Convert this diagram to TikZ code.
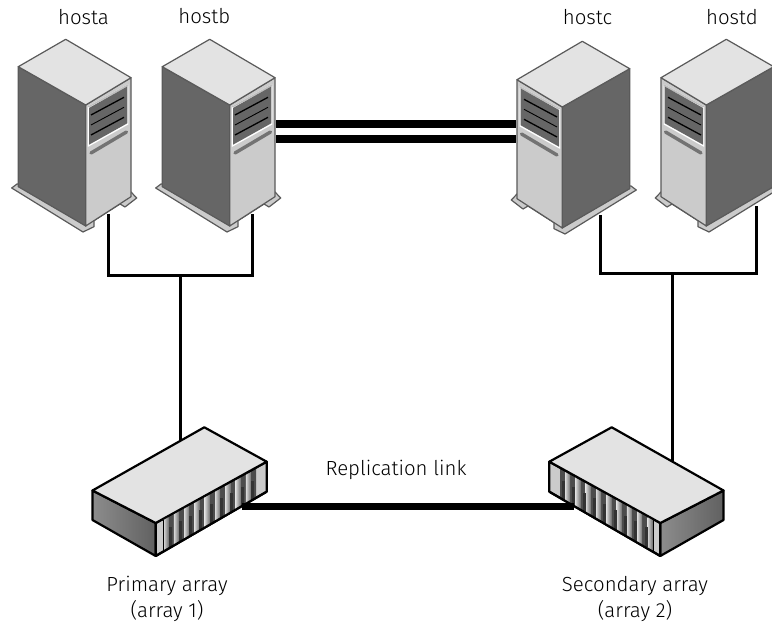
\documentclass[tikz,border=0pt]{standalone}
\usepackage{fontspec}
\setmainfont{Fira Sans Light}
\definecolor{topc}{HTML}{E3E3E3}
\definecolor{frontc}{HTML}{CBCBCB}
\definecolor{sidec}{HTML}{666666}
\definecolor{edgec}{HTML}{5A5A5A}
\tikzset{
  lab/.style={font=\fontsize{20.4}{26}\selectfont,align=center,inner sep=0pt,text=black},
  thin wire/.style={line width=3pt,black},
  thick wire/.style={line width=7.6pt,black},
  face/.style={draw=edgec,line width=1.2pt,line join=round},
  hard/.style={draw=black,line width=2.2pt,line join=round},
  pics/server/.style={code={
    \coordinate (-port) at (108.3,214);
    \filldraw[fill=frontc,face] (11.7,188) -- (17,184) -- (120,190) -- (131,192) -- (136.7,198) -- (125,207) -- (120,204) -- (94,220.6) -- (94,226.7) -- (83,232) -- cycle;
    \filldraw[fill=sidec,face] (18.3,66.7) -- (85.7,105) -- (85.7,226) -- (18.3,186.7) -- cycle;
    \filldraw[fill=frontc,face] (85.7,105) -- (131,77.7) -- (131,196.7) -- (85.7,226) -- cycle;
    \filldraw[fill=topc,face] (65.7,39.3) -- (131,77.7) -- (85.7,105) -- (18.3,66.7) -- cycle;
    \fill[white] (87.8,106.5) -- (128.3,84) -- (128.3,124.5) -- (87.8,147) -- cycle;
    \fill[black!25] (87.8,106.5) -- (128.3,84) -- (128.3,86) -- (89,107.5) -- cycle;
    \fill[sidec] (89,108) -- (127.3,86.5) -- (127.3,123.3) -- (89,144.7) -- cycle;
    \draw[black,line width=1.3pt] (91,115) -- (124,97.3);
    \draw[black,line width=.9pt] (91,125) -- (124,107.3);
    \draw[black,line width=1.3pt] (91,135) -- (124,117.3);
    \draw[black!55,line width=3.4pt,line cap=round] (91,153) -- (126.5,132);
  }},
  pics/storage/.style={code={
    \coordinate (-port) at (180,441);
    \coordinate (-rear) at (144,461);
    \coordinate (-link) at (242,506.5);
    \filldraw[left color=black!45,right color=black!62,hard] (92.5,490.5) -- (155.7,523) -- (155.7,556) -- (92.5,520) -- cycle;
    \filldraw[fill=frontc,hard] (155.7,523) -- (266.7,461.7) -- (266.7,491.7) -- (155.7,556) -- cycle;
    \filldraw[fill=topc,hard] (204.3,427.3) -- (266.7,461.7) -- (155.7,523) -- (92.5,490.5) -- cycle;
    \begin{scope}
      \clip (163,519.5) -- (256,468.5) -- (256,498.5) -- (163,552) -- cycle;
      \fill[black!70] (160,460) rectangle (260,556);
      \foreach \i in {0,...,8}{
        \shade[left color=black!15,right color=black!55]
          ({163.5+\i*10.3},{517-\i*5.75}) rectangle ++(5,38);
        \fill[black!80] ({168.5+\i*10.3},{527-\i*5.75}) rectangle ++(3,20);
      }
    \end{scope}
    \draw[black,line width=1pt] (163,519.5) -- (256,468.5);
    \draw[black,line width=1pt] (163,519.5) -- (163,552);
    \draw[hard] (155.7,556) -- (266.7,491.7);
  }}
}
\begin{document}
\begin{tikzpicture}[x=1pt,y=-1pt]
\useasboundingbox (0,0) rectangle (772,623);
\fill[white] (0,0) rectangle (772,623);
\begin{scope}
\clip (0,0) rectangle (772,623);
\pic (sa) at (0,0) {server};
\pic (sb) at (144,0) {server};
\pic[xscale=-1] (sc) at (648,2) {server};
\pic[xscale=-1] (sd) at (792,0) {server};
\pic (pa) at (0,0) {storage};
\pic[xscale=-1] (sa2) at (816,0) {storage};
\end{scope}
\node[lab] (ta) at (83.5,17) {hosta};
\node[lab] (tb) at (204.3,16) {hostb};
\node[lab] (tc) at (587.5,17) {hostc};
\node[lab] (td) at (732,17) {hostd};
\node[lab] (tr) at (396,470) {Replication link};
\node[lab] (tp) at (167,599) {Primary array\\(array 1)};
\node[lab] (ts) at (635,599) {Secondary array\\(array 2)};
\coordinate (j1) at (180,275);
\coordinate (j2) at (672,273);
\coordinate (cport) at (600,215);
\coordinate (dport) at (756,206);
\coordinate (bl1) at (276,124);
\coordinate (bl2) at (276,139);
\coordinate (cl1) at (516,124);
\coordinate (cl2) at (516,139);
\draw[thin wire] (sa-port) |- (sb-port |- j1) -- (sb-port);
\draw[thin wire] (cport) |- (dport |- j2) -- (dport);
\draw[thin wire] (j1) -- (pa-port);
\draw[thin wire] (j2) -- (sa2-rear);
\draw[thick wire] (bl1) -- (cl1);
\draw[thick wire] (bl2) -- (cl2);
\draw[thick wire] (pa-link) -- (sa2-link);
\end{tikzpicture}
\end{document}
